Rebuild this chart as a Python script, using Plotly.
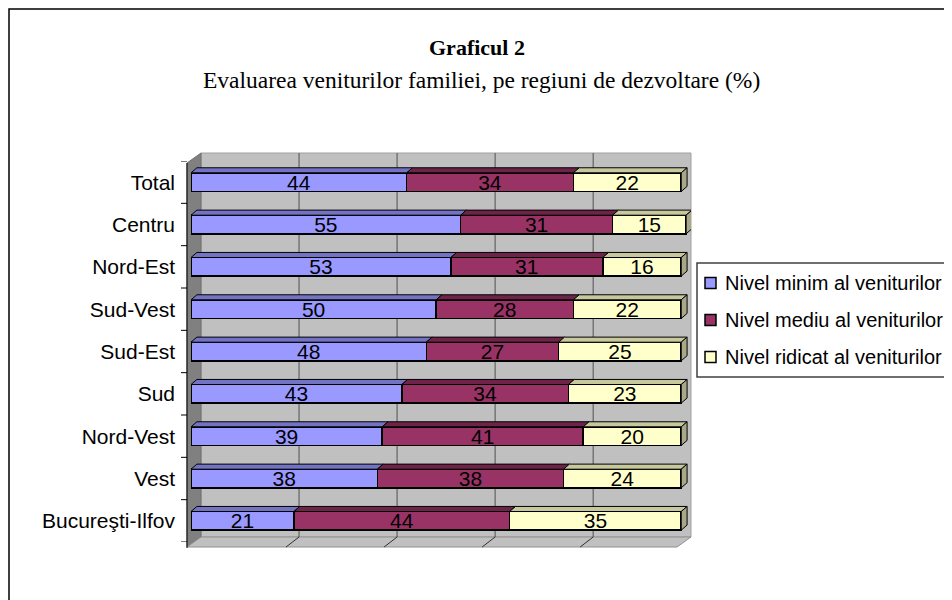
import plotly.graph_objects as go

# ---------------- data ----------------
categories = ["Total", "Centru", "Nord-Est", "Sud-Vest", "Sud-Est", "Sud",
              "Nord-Vest", "Vest", "Bucureşti-Ilfov"]
series_names = ["Nivel minim al veniturilor", "Nivel mediu al veniturilor",
                "Nivel ridicat al veniturilor"]
nivel_minim = [44, 55, 53, 50, 48, 43, 39, 38, 21]
nivel_mediu = [34, 31, 31, 28, 27, 34, 41, 38, 44]
nivel_ridicat = [22, 15, 16, 22, 25, 23, 20, 24, 35]
grid_values = [20, 40, 60, 80]

title_text = "<b>Graficul 2</b>"
subtitle_text = "Evaluarea veniturilor familiei, pe regiuni de dezvoltare (%)"

# ---------------- style ----------------
front_colors = ["#9999FF", "#993366", "#FFFFCC"]
top_colors = ["#7373C4", "#6E2449", "#C8C89E"]
side_color_last = "#A8A888"
SANS = "Liberation Sans, Arial"
SERIF = "Liberation Serif, Times New Roman"
PAGE_OFF = 8                      # page body margin in the browser
W, H = 952 - PAGE_OFF, 600 - PAGE_OFF
# plot area in page pixels
L_PX, R_PX, T_PX, B_PX = 191, 691, 161, 542
X_MAX = 102                       # x range end (100 -> px 681)

def px2x(px):
    return (px - L_PX) / (R_PX - L_PX)

def py2y(py):
    return (B_PX - py) / (B_PX - T_PX)

BAR_W = 0.44
DDX = 1.2      # depth of bars in x data units
DDY = 0.12     # depth of bars in category units

series = [nivel_minim, nivel_mediu, nivel_ridicat]
ypos = list(range(len(categories)))

fig = go.Figure()

# front faces of bars
for k, (name, vals, col) in enumerate(zip(series_names, series, front_colors)):
    fig.add_trace(go.Bar(
        y=ypos, x=vals, orientation="h", name=name, width=BAR_W,
        marker=dict(color=col, line=dict(color="black", width=1.5)),
        text=vals, texttemplate="%{text}", textposition="inside",
        insidetextanchor="middle",
        textfont=dict(family=SANS, size=21, color="black"),
        hoverinfo="x+name", showlegend=False,
    ))

# top faces (3D effect) and right end faces
n = len(categories)
starts = [0] * n
for k, (vals, tcol) in enumerate(zip(series, top_colors)):
    xs, ys = [], []
    for i in range(n):
        a = starts[i]
        b = a + vals[i]
        top = i - BAR_W / 2
        xs += [a, b, b + DDX, a + DDX, a, None]
        ys += [top, top, top - DDY, top - DDY, top, None]
        starts[i] = b
    fig.add_trace(go.Scatter(
        x=xs, y=ys, mode="lines", fill="toself", fillcolor=tcol,
        line=dict(color="black", width=1), showlegend=False, hoverinfo="skip",
    ))

xs, ys = [], []
for i in range(n):
    e = starts[i]
    top = i - BAR_W / 2
    bot = i + BAR_W / 2
    xs += [e, e + DDX, e + DDX, e, e, None]
    ys += [top, top - DDY, bot - DDY, bot, top, None]
fig.add_trace(go.Scatter(
    x=xs, y=ys, mode="lines", fill="toself", fillcolor=side_color_last,
    line=dict(color="black", width=1), showlegend=False, hoverinfo="skip",
))

# ---------------- walls (decoration) ----------------
shapes = []
shapes.append(dict(type="rect", xref="paper", yref="paper",
                   x0=px2x(201), x1=px2x(691), y0=py2y(537), y1=py2y(153),
                   fillcolor="#C0C0C0", line=dict(color="#A0A0A0", width=1),
                   layer="below"))
shapes.append(dict(type="path", xref="paper", yref="paper",
                   path=f"M{px2x(187)},{py2y(163)} L{px2x(201)},{py2y(153)} "
                        f"L{px2x(201)},{py2y(537)} L{px2x(187)},{py2y(547)} Z",
                   fillcolor="#808080", line=dict(color="#707070", width=1),
                   layer="below"))
shapes.append(dict(type="path", xref="paper", yref="paper",
                   path=f"M{px2x(187)},{py2y(547)} L{px2x(201)},{py2y(537)} "
                        f"L{px2x(691)},{py2y(537)} L{px2x(677)},{py2y(547)} Z",
                   fillcolor="#C0C0C0", line=dict(color="#909090", width=1),
                   layer="below"))
for v in grid_values:
    shapes.append(dict(type="line", xref="x", xsizemode="pixel", xanchor=v,
                       x0=10, x1=10, yref="paper", y0=py2y(537), y1=py2y(153),
                       line=dict(color="#505050", width=1), layer="below"))
    shapes.append(dict(type="line", xref="x", xsizemode="pixel", xanchor=v,
                       x0=10, x1=-3, yref="paper", y0=py2y(537), y1=py2y(547),
                       line=dict(color="#303030", width=1), layer="below"))
shapes.append(dict(type="line", xref="paper", yref="paper",
                   x0=px2x(187), x1=px2x(187), y0=py2y(163), y1=py2y(548),
                   line=dict(color="black", width=1)))
for i in range(n + 1):
    shapes.append(dict(type="line", xref="paper", yref="y",
                       x0=px2x(181), x1=px2x(187), y0=i - 0.5, y1=i - 0.5,
                       line=dict(color="black", width=1)))
# outer frame
shapes.append(dict(type="rect", xref="paper", yref="paper",
                   x0=px2x(9), x1=px2x(1200), y0=py2y(9), y1=py2y(900),
                   line=dict(color="black", width=1.5), fillcolor="rgba(0,0,0,0)"))

annotations = [
    dict(text=title_text, xref="paper", yref="paper", x=px2x(477), y=py2y(47),
         showarrow=False, xanchor="center", yanchor="middle",
         font=dict(family=SERIF, size=22, color="black")),
    dict(text=subtitle_text, xref="paper", yref="paper", x=px2x(481), y=py2y(80),
         showarrow=False, xanchor="center", yanchor="middle",
         font=dict(family=SERIF, size=23.5, color="black")),
]

# ---------------- legend (box, keys, labels) ----------------
LEG_L, LEG_T, LEG_B = 697, 263, 377
LEG_ROW0, LEG_STEP = 283, 37
shapes.append(dict(type="rect", xref="paper", yref="paper",
                   x0=px2x(LEG_L), x1=px2x(1100), y0=py2y(LEG_B), y1=py2y(LEG_T),
                   fillcolor="white", line=dict(color="#404040", width=1.5)))
for k, (name, col) in enumerate(zip(series_names, front_colors)):
    cy = LEG_ROW0 + k * LEG_STEP
    shapes.append(dict(type="rect", xref="paper", yref="paper",
                       x0=px2x(705), x1=px2x(716), y0=py2y(cy + 5.5), y1=py2y(cy - 5.5),
                       fillcolor=col, line=dict(color="black", width=1.5)))
    annotations.append(dict(text=name, xref="paper", yref="paper",
                            x=px2x(723), y=py2y(cy), showarrow=False,
                            xanchor="left", yanchor="middle",
                            font=dict(family=SANS, size=20, color="black")))

fig.update_layout(
    width=W, height=H,
    barmode="stack",
    paper_bgcolor="white",
    plot_bgcolor="rgba(0,0,0,0)",
    margin=dict(l=L_PX - PAGE_OFF, r=W - (R_PX - PAGE_OFF),
                t=T_PX - PAGE_OFF, b=H - (B_PX - PAGE_OFF), autoexpand=False),
    xaxis=dict(range=[0, X_MAX], showgrid=False, zeroline=False,
               showticklabels=False, ticks="", fixedrange=True),
    yaxis=dict(range=[n - 0.5, -0.5], tickmode="array", tickvals=ypos,
               ticktext=categories, showgrid=False, zeroline=False,
               showline=False, ticks="", ticklabelstandoff=15,
               tickfont=dict(family=SANS, size=21, color="black"),
               fixedrange=True),
    uniformtext=dict(minsize=21, mode="show"),
    showlegend=False,
    shapes=shapes,
    annotations=annotations,
)

fig.write_html("out.html")
